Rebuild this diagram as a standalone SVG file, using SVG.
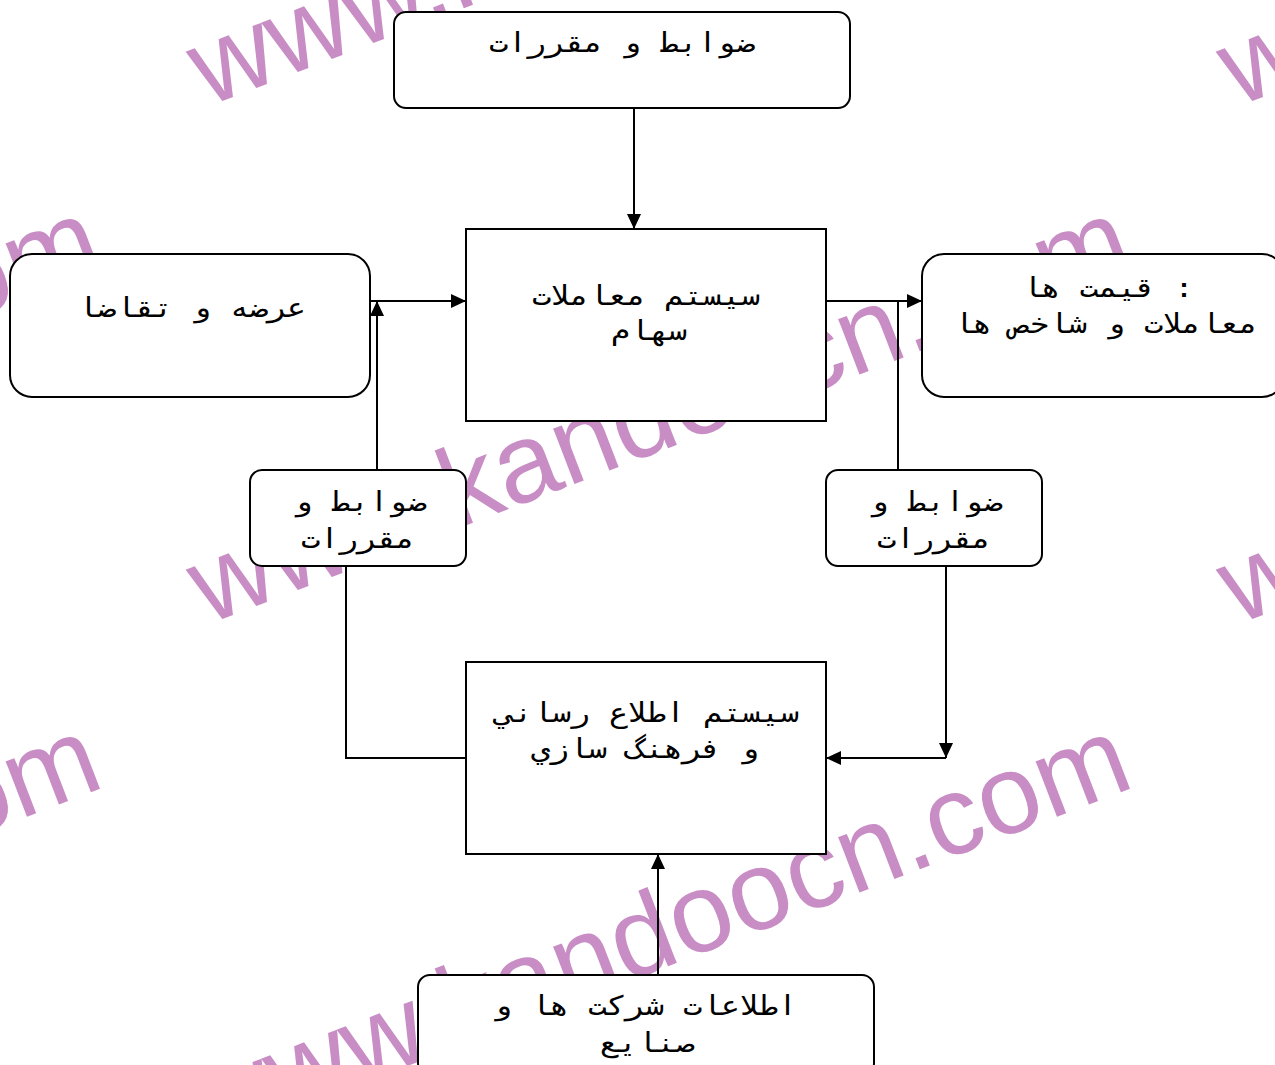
<svg xmlns="http://www.w3.org/2000/svg" width="1275" height="1065" viewBox="0 0 1275 1065">
<style>
.wm{font-family:"Liberation Sans",Arial,sans-serif;font-size:112px;fill:#c98dc5}
.box{fill:#fff;stroke:#000;stroke-width:2}
.t{font-family:"DejaVu Sans Mono","Liberation Mono",monospace;font-size:27px;fill:#000;text-anchor:middle}
.c{fill:none;stroke:#000;stroke-width:2}
</style>
<defs>
<marker id="ah" markerUnits="userSpaceOnUse" markerWidth="16" markerHeight="16" refX="15" refY="7" orient="auto">
<path d="M0,0 L15,7 L0,14 z" fill="#000"/>
</marker>
</defs>
<rect width="1275" height="1065" fill="#fff"/>
<g id="watermark">
<text class="wm" transform="translate(207,107) rotate(-21)">www.kandoocn.com</text>
<text class="wm" transform="translate(207,625) rotate(-21)">www.kandoocn.com</text>
<text class="wm" transform="translate(207,1143) rotate(-21)">www.kandoocn.com</text>
<text class="wm" transform="translate(1237,107) rotate(-21)">www.kandoocn.com</text>
<text class="wm" transform="translate(1237,625) rotate(-21)">www.kandoocn.com</text>
<text class="wm" transform="translate(-823,625) rotate(-21)">www.kandoocn.com</text>
<text class="wm" transform="translate(-823,1143) rotate(-21)">www.kandoocn.com</text>
</g>
<g id="n-top">
<rect class="box" x="394" y="12" width="456" height="96" rx="12"/>
<text class="t" transform="translate(622,52) scale(1.17,1)">ضوابط و مقررات</text>
</g>
<g id="n-center">
<rect class="box" x="466" y="229" width="360" height="192"/>
<text class="t" transform="translate(646,305) scale(1.17,1)">سيستم معاملات</text>
<text class="t" transform="translate(649,340) scale(1.17,1)">سهام</text>
</g>
<g id="n-left">
<rect class="box" x="10" y="254" width="360" height="143" rx="22"/>
<text class="t" transform="translate(192,317) scale(1.17,1)">عرضه و تقاضا</text>
</g>
<g id="n-right">
<rect class="box" x="922" y="254" width="362" height="143" rx="22"/>
<text class="t" transform="translate(1108,297) scale(1.17,1)">قيمت ها :</text>
<text class="t" transform="translate(1106,333) scale(1.17,1)">معاملات و شاخص ها</text>
</g>
<g id="n-rules-left">
<rect class="box" x="250" y="470" width="216" height="96" rx="12"/>
<text class="t" transform="translate(360,511) scale(1.17,1)">ضوابط و</text>
<text class="t" transform="translate(358,548) scale(1.17,1)">مقررات</text>
</g>
<g id="n-rules-right">
<rect class="box" x="826" y="470" width="216" height="96" rx="12"/>
<text class="t" transform="translate(936,511) scale(1.17,1)">ضوابط و</text>
<text class="t" transform="translate(934,548) scale(1.17,1)">مقررات</text>
</g>
<g id="n-info">
<rect class="box" x="466" y="662" width="360" height="192"/>
<text class="t" transform="translate(647,722) scale(1.17,1)">سيستم اطلاع رساني</text>
<text class="t" transform="translate(645,758) scale(1.17,1)">و فرهنگ سازي</text>
</g>
<g id="n-company">
<rect class="box" x="418" y="975" width="456" height="100" rx="12"/>
<text class="t" transform="translate(645,1015) scale(1.17,1)">اطلاعات شركت ها و</text>
<text class="t" transform="translate(647,1052) scale(1.17,1)">صنايع</text>
</g>
<g id="connectors">
<path class="c" d="M634,108 V229" marker-end="url(#ah)"/>
<path class="c" d="M370,301 H466" marker-end="url(#ah)"/>
<path class="c" d="M826,301 H922" marker-end="url(#ah)"/>
<path class="c" d="M898,470 V301"/>
<path class="c" d="M377,470 V301" marker-end="url(#ah)"/>
<path class="c" d="M346,566 V758 H466"/>
<path class="c" d="M946,566 V758" marker-end="url(#ah)"/>
<path class="c" d="M946,758 H826" marker-end="url(#ah)"/>
<path class="c" d="M658,975 V854" marker-end="url(#ah)"/>
</g>
</svg>
